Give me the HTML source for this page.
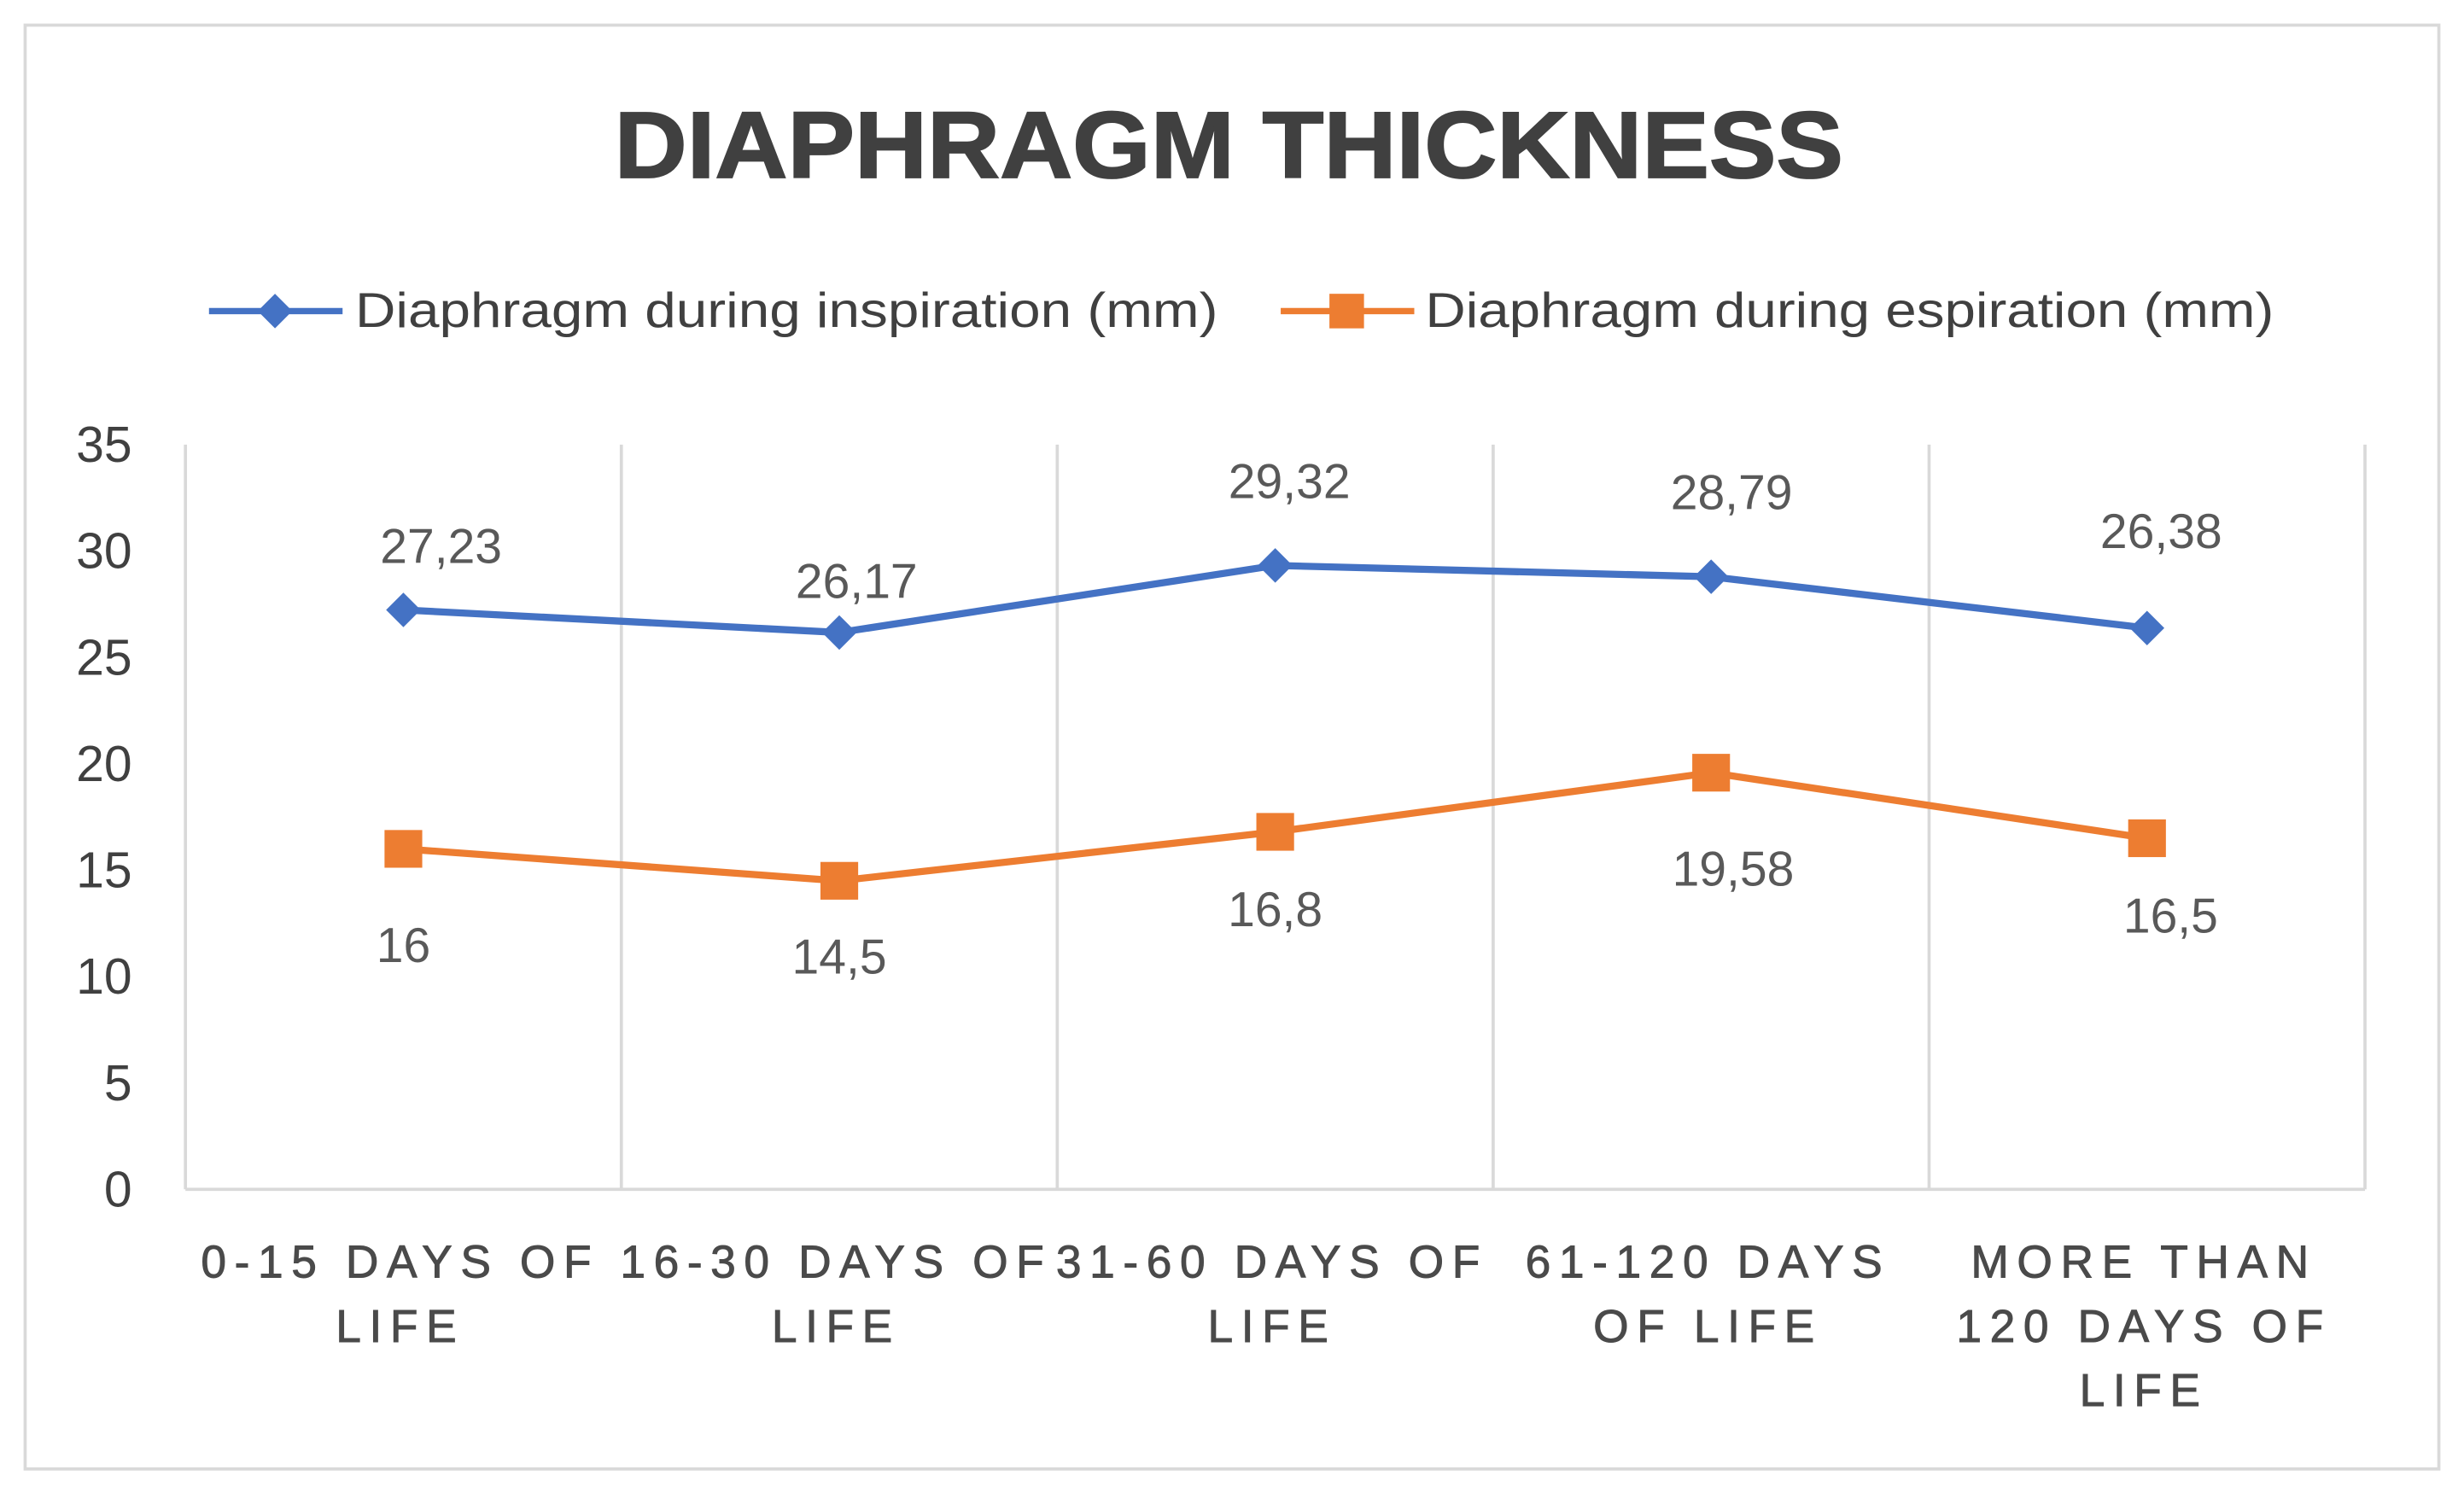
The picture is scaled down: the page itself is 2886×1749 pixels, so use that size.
<!DOCTYPE html>
<html><head><meta charset="utf-8"><style>html,body{margin:0;padding:0;background:#fff}svg{display:block}text{font-family:"Liberation Sans",sans-serif}</style></head>
<body>
<svg id="chart" width="2886" height="1749" viewBox="0 0 1568 950.3" preserveAspectRatio="none" xmlns="http://www.w3.org/2000/svg">
<rect x="16" y="16" width="1536" height="919" fill="#fff" stroke="#d9d9d9" stroke-width="2"/>
<text x="782" y="113" text-anchor="middle" font-size="60" font-weight="bold" fill="#404040" stroke="#404040" stroke-width="1" textLength="782" lengthAdjust="spacingAndGlyphs">DIAPHRAGM THICKNESS</text>
<g>
<g>
<line x1="133" y1="198" x2="218" y2="198" stroke="#4472c4" stroke-width="4"/>
<path d="M175 187 L186 198 L175 209 L164 198Z" fill="#4472c4"/>
<text x="226" y="208" font-size="31" fill="#404040" textLength="549" lengthAdjust="spacingAndGlyphs">Diaphragm during inspiration (mm)</text>
</g>
<g>
<line x1="815" y1="198" x2="900" y2="198" stroke="#ed7d31" stroke-width="4"/>
<rect x="846" y="187" width="22" height="22" fill="#ed7d31"/>
<text x="907" y="208" font-size="31" fill="#404040" textLength="540" lengthAdjust="spacingAndGlyphs">Diaphragm during espiration (mm)</text>
</g>
</g>
<g id="grid"></g><g id="yaxis"></g><g id="xaxis"></g><g id="series"></g>
</svg>
<script>
const categories=[["0-15 DAYS OF","LIFE"],["16-30 DAYS OF","LIFE"],["31-60 DAYS OF","LIFE"],["61-120 DAYS","OF LIFE"],["MORE THAN","120 DAYS OF","LIFE"]];
const inspiration=[27.23,26.17,29.32,28.79,26.38];
const espiration=[16,14.5,16.8,19.58,16.5];
const inspLabels=["27,23","26,17","29,32","28,79","26,38"];
const espLabels=["16","14,5","16,8","19,58","16,5"];
const yTicks=[0,5,10,15,20,25,30,35];
// label layout offsets (pixels, not data)
const inspLabelDy=[-41,-33,-54,-54,-62];
const inspLabelDx=[24,11,9,13,9];
const espLabelDy=[61,48,49,61,49];
const espLabelDx=[0,0,0,14,15];
const NS="http://www.w3.org/2000/svg";
const X0=118,X1=1505,Y0=757,Y1=283,YMAX=35;
const bw=(X1-X0)/categories.length;
function xs(i){return X0+bw*(i+0.5);}
function ys(v){return Y0-(v/YMAX)*(Y0-Y1);}
function mk(tag,attrs,parent){const e=document.createElementNS(NS,tag);for(const k in attrs)e.setAttribute(k,attrs[k]);parent.appendChild(e);return e;}
const grid=document.getElementById('grid'),ya=document.getElementById('yaxis'),xa=document.getElementById('xaxis'),se=document.getElementById('series');
for(let i=0;i<=categories.length;i++){
 const gx=X0+bw*i;
 const l=mk('line',{x1:gx,x2:gx,y1:Y1,y2:Y0,stroke:'#d9d9d9','stroke-width':2},grid);
 
 
}
const ax=mk('line',{x1:X0,x2:X1,y1:Y0,y2:Y0,stroke:'#d9d9d9','stroke-width':2},grid);


yTicks.forEach(v=>{
 const t=mk('text',{x:84,y:ys(v)+11,'text-anchor':'end','font-size':32,fill:'#404040'},ya);
 t.textContent=v;
 
 
});
categories.forEach((lines,i)=>{
 lines.forEach((s,j)=>{
  const t=mk('text',{x:xs(i)-2,y:813+j*41,'text-anchor':'middle','font-size':29,fill:'#4a4a4a',stroke:'#4a4a4a','stroke-width':0.5,'letter-spacing':5.2},xa);
  t.textContent=s;
  
  
 });
});
function drawSeries(vals,labels,color,shape,dxs,dys,name){
 const pts=vals.map((v,i)=>xs(i)+','+ys(v)).join(' ');
 const pl=mk('polyline',{points:pts,fill:'none',stroke:color,'stroke-width':4.5,'stroke-linejoin':'round'},se);
 
 
 vals.forEach((v,i)=>{
  const cx=xs(i),cy=ys(v);let m;
  if(shape==='diamond') m=mk('path',{d:`M${cx} ${cy-11}L${cx+11} ${cy}L${cx} ${cy+11}L${cx-11} ${cy}Z`,fill:color},se);
  else m=mk('rect',{x:cx-12,y:cy-12,width:24,height:24,fill:color},se);
  
  
  const t=mk('text',{x:cx+dxs[i],y:cy+dys[i]+11,'text-anchor':'middle','font-size':31,fill:'#595959'},se);
  t.textContent=labels[i];
  
  
 });
}
drawSeries(inspiration,inspLabels,'#4472c4','diamond',inspLabelDx,inspLabelDy,'inspiration');
drawSeries(espiration,espLabels,'#ed7d31','square',espLabelDx,espLabelDy,'espiration');
</script>
</body></html>
